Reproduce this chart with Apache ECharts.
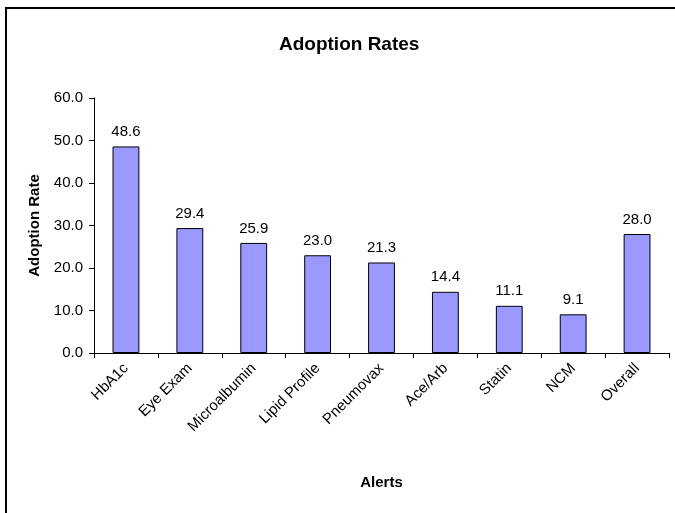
<!DOCTYPE html>
<html>
<head>
<meta charset="utf-8">
<script src="https://cdn.jsdelivr.net/npm/echarts@6/dist/echarts.min.js"></script>
<style>
  html, body { margin: 0; padding: 0; background: #fff; }
  #chart { width: 675px; height: 513px; }
</style>
</head>
<body>
<div id="chart"></div>
<script>
// Alert categories and their adoption rates (%)
const categories = ['HbA1c', 'Eye Exam', 'Microalbumin', 'Lipid Profile', 'Pneumovax', 'Ace/Arb', 'Statin', 'NCM', 'Overall'];
const adoptionRates = [48.6, 29.4, 25.9, 23.0, 21.3, 14.4, 11.1, 9.1, 28.0];
const yTicks = { min: 0, max: 60, interval: 10 };

const font = 'Liberation Sans, Arial, sans-serif';
const chart = echarts.init(document.getElementById('chart'), null, { renderer: 'canvas' });

chart.setOption({
  backgroundColor: '#fff',
  animation: false,
  title: {
    text: 'Adoption Rates',
    left: 274,
    top: 30,
    textStyle: { fontFamily: font, fontSize: 19, fontWeight: 'bold', color: '#000' }
  },
  graphic: [{
    type: 'rect',
    shape: { x: 6, y: 8, width: 700, height: 600 },
    style: { fill: 'none', stroke: '#000', lineWidth: 2 },
    silent: true
  }],
  grid: { left: 94, right: 6, top: 98, bottom: 160, containLabel: false },
  xAxis: {
    type: 'category',
    data: categories,
    name: 'Alerts',
    nameLocation: 'middle',
    nameGap: 122,
    nameTextStyle: { fontFamily: font, fontSize: 15, fontWeight: 'bold', color: '#000' },
    axisLine: { lineStyle: { color: '#000', width: 1 } },
    axisTick: { show: true, alignWithLabel: false, length: 5, lineStyle: { color: '#000' } },
    axisLabel: { rotate: 45, interval: 0, margin: 13, fontFamily: font, fontSize: 15, color: '#000' },
    splitLine: { show: false }
  },
  yAxis: {
    type: 'value',
    min: yTicks.min,
    max: yTicks.max,
    interval: yTicks.interval,
    name: 'Adoption Rate',
    nameLocation: 'middle',
    nameGap: 52,
    nameTextStyle: { fontFamily: font, fontSize: 15, fontWeight: 'bold', color: '#000' },
    axisLine: { show: true, lineStyle: { color: '#000', width: 1 } },
    axisTick: { show: true, length: 5, lineStyle: { color: '#000' } },
    axisLabel: {
      fontFamily: font, fontSize: 15, color: '#000', margin: 11,
      formatter: v => v.toFixed(1)
    },
    splitLine: { show: false }
  },
  series: [{
    type: 'bar',
    data: adoptionRates,
    barWidth: '42%',
    itemStyle: { color: '#9999FF', borderColor: '#000', borderWidth: 1 },
    label: {
      show: true,
      position: 'top',
      distance: 7,
      fontFamily: font,
      fontSize: 15,
      color: '#000',
      formatter: p => p.value.toFixed(1)
    }
  }]
});
</script>
</body>
</html>
